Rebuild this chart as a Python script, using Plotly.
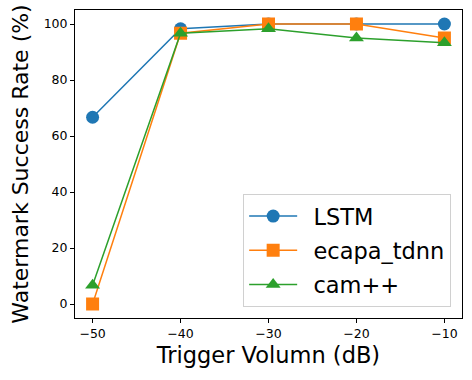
import plotly.graph_objects as go

volume_db = [-50, -40, -30, -20, -10]
lstm = [66.7, 98.3, 100, 100, 100]
ecapa_tdnn = [0, 96.7, 100, 100, 95]
cam_pp = [6.7, 96.7, 98.3, 95, 93.3]

series = [
    ("LSTM", lstm, "#1f77b4", "circle"),
    ("ecapa_tdnn", ecapa_tdnn, "#ff7f0e", "square"),
    ("cam++", cam_pp, "#2ca02c", "triangle-up"),
]

fig = go.Figure()
for name, vals, color, sym in series:
    fig.add_trace(go.Scatter(
        x=volume_db, y=vals, name="\u2002" + name, legendgroup=name,
        mode="lines+markers",
        line=dict(color=color, width=1.5),
        marker=dict(color=color, symbol=sym, size=13),
    ))

axis_common = dict(
    showgrid=False, zeroline=False, showline=True, mirror=True,
    linecolor="black", linewidth=1, ticks="outside", ticklen=4,
    tickcolor="black", tickfont=dict(size=12.5, color="black"),
    automargin=False,
)
fig.update_xaxes(range=[-52, -8], tickvals=volume_db,
                 ticktext=["\u221250", "\u221240", "\u221230", "\u221220", "\u221210"],
                 title=dict(text="Trigger Volumn (dB)", font=dict(size=22.5, color="black"), standoff=7),
                 **axis_common)
fig.update_yaxes(range=[-5, 105], tickvals=[0, 20, 40, 60, 80, 100],
                 title=dict(text="Watermark Success Rate (%)", font=dict(size=22, color="black"), standoff=8),
                 **axis_common)

fig.update_layout(
    width=472, height=380,
    margin=dict(l=75, r=10, t=10, b=62),
    plot_bgcolor="white", paper_bgcolor="white",
    font=dict(family="DejaVu Sans", color="black"),
    legend=dict(x=0.972, y=0.036, xanchor="right", yanchor="bottom",
                bgcolor="rgba(255,255,255,0.8)", bordercolor="#d0d0d0", borderwidth=1,
                font=dict(size=22.5), itemwidth=48, tracegroupgap=2),
)

# drop the default 8px body margin so the figure sits flush in the window
fig.write_html("out.html", config={"displayModeBar": False},
               post_script="document.body.style.margin='0';")
